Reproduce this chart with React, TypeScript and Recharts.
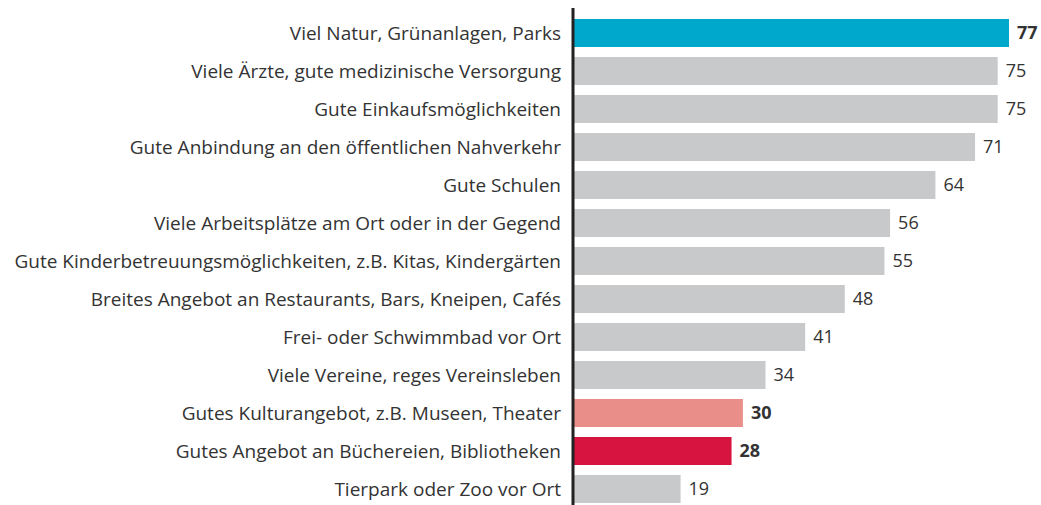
import { BarChart, Bar, XAxis, YAxis, Cell, LabelList } from "recharts";

const categories = [
  "Viel Natur, Grünanlagen, Parks",
  "Viele Ärzte, gute medizinische Versorgung",
  "Gute Einkaufsmöglichkeiten",
  "Gute Anbindung an den öffentlichen Nahverkehr",
  "Gute Schulen",
  "Viele Arbeitsplätze am Ort oder in der Gegend",
  "Gute Kinderbetreuungsmöglichkeiten, z.B. Kitas, Kindergärten",
  "Breites Angebot an Restaurants, Bars, Kneipen, Cafés",
  "Frei- oder Schwimmbad vor Ort",
  "Viele Vereine, reges Vereinsleben",
  "Gutes Kulturangebot, z.B. Museen, Theater",
  "Gutes Angebot an Büchereien, Bibliotheken",
  "Tierpark oder Zoo vor Ort",
];
const values = [77, 75, 75, 71, 64, 56, 55, 48, 41, 34, 30, 28, 19];
const colors = [
  "#00a8cc", "#c8c9cb", "#c8c9cb", "#c8c9cb", "#c8c9cb", "#c8c9cb", "#c8c9cb",
  "#c8c9cb", "#c8c9cb", "#c8c9cb", "#e98e89", "#d7133f", "#c8c9cb",
];
const highlighted = [true, false, false, false, false, false, false, false, false, false, true, true, false];

const data = categories.map((name, i) => ({ name, value: values[i] }));

const FONT = "'Open Sans', sans-serif";

const ValueLabel = (props: any) => {
  const { x, y, width, height, value, index } = props;
  return (
    <text
      x={x + width + 8}
      y={y + height / 2}
      dy="0.35em"
      fill="#333"
      fontSize={18}
      fontFamily={FONT}
      fontWeight={highlighted[index] ? 700 : 400}
    >
      {value}
    </text>
  );
};

const App = () => {
  return (
    <div style={{ position: "absolute", left: 0, top: 0, background: "#fff" }}>
      <BarChart
        width={1041}
        height={505}
        data={data}
        layout="vertical"
        margin={{ top: 8, right: 15, left: 0, bottom: -3 }}
        barCategoryGap={5}
      >
        <XAxis type="number" domain={[0, 80]} hide />
        <YAxis
          type="category"
          dataKey="name"
          width={573}
          padding={{ top: 6, bottom: 0 }}
          tickLine={false}
          tickMargin={6}
          axisLine={{ stroke: "#222", strokeWidth: 3 }}
          tick={{ fill: "#333", fontSize: 19, fontFamily: FONT }}
          interval={0}
        />
        <Bar dataKey="value" isAnimationActive={false}>
          {data.map((d, i) => (
            <Cell key={d.name} fill={colors[i]} />
          ))}
          <LabelList dataKey="value" content={<ValueLabel />} />
        </Bar>
      </BarChart>
    </div>
  );
};

export default App;
